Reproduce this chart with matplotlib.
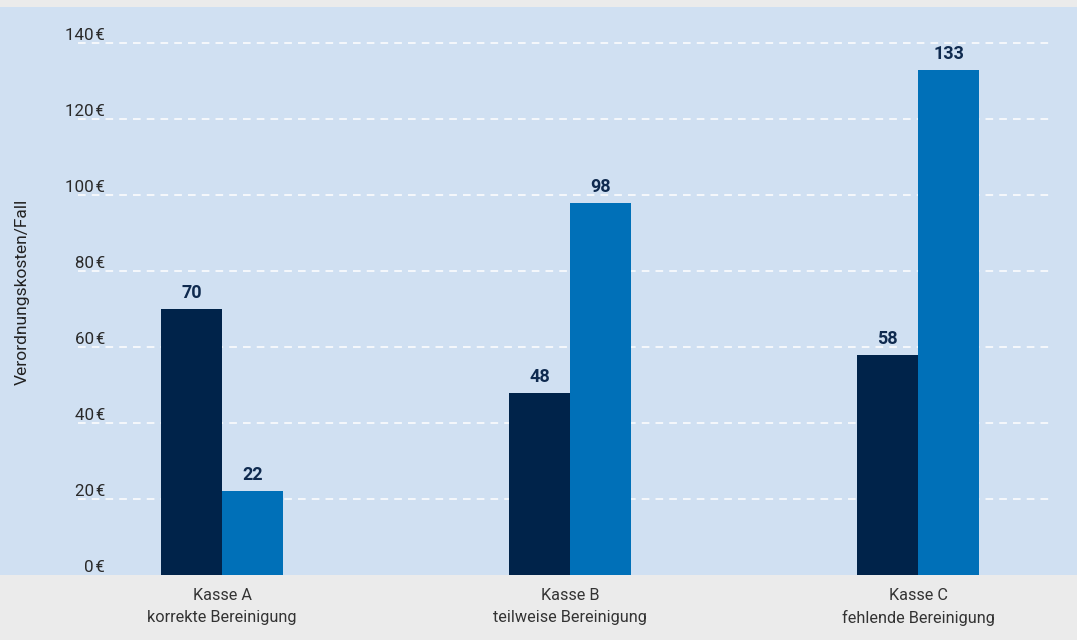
import matplotlib.pyplot as plt
from matplotlib.patches import Rectangle
from matplotlib.transforms import blended_transform_factory

plt.rcParams['font.family'] = ['Roboto', 'DejaVu Sans']

kassen = ['Kasse A\nkorrekte Bereinigung', 'Kasse B\nteilweise Bereinigung', 'Kasse C\nfehlende Bereinigung']
serie_1 = [70, 48, 58]
serie_2 = [22, 98, 133]
yticks = [0, 20, 40, 60, 80, 100, 120, 140]

dunkel = '#00234a'
hell = '#0070b8'
hintergrund = '#d0e0f2'
grau = '#ebebeb'

fig = plt.figure(figsize=(10.77, 6.4), dpi=100, facecolor=grau)
# blaue Flaeche ueber die ganze Breite
fig.patches.append(Rectangle((0, 65 / 640), 1, 568 / 640, transform=fig.transFigure,
                             facecolor=hintergrund, edgecolor='none', zorder=-10))

ax = fig.add_axes([78 / 1077, 65 / 640, 972 / 1077, 568 / 640])
ax.set_facecolor('none')

x = range(len(kassen))
breite = 0.175
b1 = ax.bar([i - breite / 2 for i in x], serie_1, breite, color=dunkel, zorder=3)
b2 = ax.bar([i + breite / 2 for i in x], serie_2, breite, color=hell, zorder=3)

for bars in (b1, b2):
    for r in bars:
        ax.text(r.get_x() + r.get_width() / 2, r.get_height() + 2.9, f'{r.get_height():.0f}',
                ha='center', va='baseline', fontsize=13, fontweight='bold', color='#0f2a4f')

ax.set_xlim(-0.414, 2.379)
ax.set_ylim(0, 149.5)

# gestrichelte Gitterlinien, Beschriftung oberhalb
for t in yticks[1:]:
    ax.axhline(t, color='white', lw=1.1, ls=(0, (5, 4)), zorder=1)
trans = blended_transform_factory(fig.transFigure, ax.transData)
for t in yticks:
    ax.text(105 / 1077, t + 0.8, f'{t}\u200a€', ha='right', va='baseline', fontsize=12.2,
            color='#2a2a2a', transform=trans)

ax.set_yticks([])
ax.set_xticks(list(x))
ax.set_xticklabels(kassen, fontsize=11.7, color='#333333', linespacing=1.6)
ax.tick_params(axis='x', length=0, pad=9)
for s in ax.spines.values():
    s.set_visible(False)

fig.text(22 / 1077, 1 - 292 / 640, 'Verordnungskosten/Fall', rotation=90, ha='center', va='center',
         fontsize=12.5, color='#222222')

fig.savefig('out.png', dpi=100, facecolor=grau)
